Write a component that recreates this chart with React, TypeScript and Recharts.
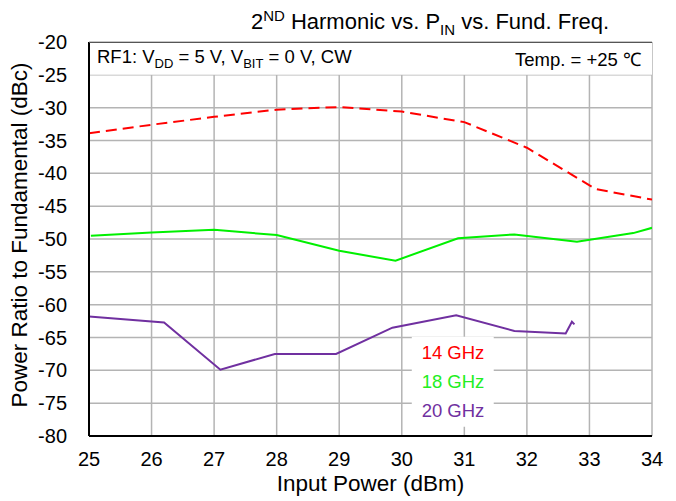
import React from "react";
import {
  LineChart,
  Line,
  XAxis,
  YAxis,
  CartesianGrid,
  ReferenceArea,
} from "recharts";

const xTicks = [25, 26, 27, 28, 29, 30, 31, 32, 33, 34];
const yTicks = [-80, -75, -70, -65, -60, -55, -50, -45, -40, -35, -30, -25, -20];

const ghz14 = [
  { x: 25, y: -33.9 },
  { x: 26, y: -32.6 },
  { x: 27, y: -31.4 },
  { x: 28, y: -30.3 },
  { x: 29, y: -29.9 },
  { x: 30, y: -30.6 },
  { x: 31, y: -32.2 },
  { x: 32, y: -36.1 },
  { x: 33.1, y: -42.4 },
  { x: 34, y: -44.0 },
];

const ghz18 = [
  { x: 25.03, y: -49.5 },
  { x: 26, y: -49.0 },
  { x: 27, y: -48.6 },
  { x: 28, y: -49.4 },
  { x: 29, y: -51.8 },
  { x: 29.9, y: -53.3 },
  { x: 30.9, y: -49.9 },
  { x: 31.8, y: -49.3 },
  { x: 32.8, y: -50.4 },
  { x: 33.7, y: -49.1 },
  { x: 34, y: -48.3 },
];

const ghz20 = [
  { x: 25, y: -61.8 },
  { x: 26.2, y: -62.7 },
  { x: 27.1, y: -69.9 },
  { x: 27.97, y: -67.5 },
  { x: 28.95, y: -67.5 },
  { x: 29.85, y: -63.5 },
  { x: 30.87, y: -61.6 },
  { x: 31.8, y: -64.0 },
  { x: 32.62, y: -64.4 },
  { x: 32.72, y: -62.6 },
  { x: 32.76, y: -63.0 },
];

const font = "'Liberation Sans', Arial, Helvetica, sans-serif";

export default function App() {
  return (
    <div style={{ position: "absolute", left: 0, top: 0, width: 676, height: 501, background: "#fff", fontFamily: font }}>
      <LineChart width={676} height={501} margin={{ top: 42, right: 24, left: 29, bottom: 35 }}>
        <CartesianGrid stroke="#b4b4b4" strokeWidth={1.5} ticks={yTicks} />
        <ReferenceArea y1={-25} y2={-20} fill="#fff" fillOpacity={1} stroke="none" ifOverflow="visible" />
        <ReferenceArea x1={30.16} x2={31.47} y1={-78.6} y2={-64.9} fill="#fff" fillOpacity={1} stroke="none" />
        <XAxis
          type="number"
          dataKey="x"
          domain={[25, 34]}
          ticks={xTicks}
          interval={0}
          allowDataOverflow
          height={30}
          tickLine={false}
          axisLine={{ stroke: "#000", strokeWidth: 2 }}
          tick={{ fill: "#000", fontSize: 20, fontFamily: font }}
          tickMargin={10}
        />
        <YAxis
          type="number"
          dataKey="y"
          domain={[-80, -20]}
          ticks={yTicks}
          interval={0}
          allowDataOverflow
          width={60}
          tickLine={false}
          axisLine={{ stroke: "#000", strokeWidth: 2 }}
          tick={{ fill: "#000", fontSize: 20, fontFamily: font }}
          tickMargin={16}
        />
        <YAxis yAxisId="r" orientation="right" width={0} tick={false} tickLine={false} axisLine={{ stroke: "#000", strokeWidth: 2 }} />
        <Line data={ghz14} dataKey="y" type="linear" stroke="#ff0000" strokeWidth={2} strokeDasharray="11 6" dot={false} isAnimationActive={false} />
        <Line data={ghz18} dataKey="y" type="linear" stroke="#00f000" strokeWidth={2} dot={false} isAnimationActive={false} />
        <Line data={ghz20} dataKey="y" type="linear" stroke="#7030a0" strokeWidth={2} dot={false} isAnimationActive={false} />
      </LineChart>

      <div style={{ position: "absolute", left: 89, top: 42, width: 563, height: 1, borderTop: "1.5px solid #555" }} />

      <div style={{ position: "absolute", left: 60, width: 740, top: 7, textAlign: "center", fontSize: 22, color: "#000" }}>
        2<sup style={{ fontSize: 15 }}>ND</sup> Harmonic vs. P<sub style={{ fontSize: 15 }}>IN</sub> vs. Fund. Freq.
      </div>

      <div style={{ position: "absolute", left: 97, top: 46, fontSize: 18.5, color: "#000" }}>
        RF1: V<sub style={{ fontSize: 13 }}>DD</sub> = 5 V, V<sub style={{ fontSize: 13 }}>BIT</sub> = 0 V, CW
      </div>
      <div style={{ position: "absolute", right: 676 - 641, top: 46, fontSize: 18.5, color: "#000" }}>
        Temp. = +25 ℃
      </div>

      <div style={{ position: "absolute", left: 412, width: 82, top: 338, textAlign: "center", fontSize: 18.5, lineHeight: "29px" }}>
        <div style={{ color: "#ff0000" }}>14 GHz</div>
        <div style={{ color: "#22ee22" }}>18 GHz</div>
        <div style={{ color: "#7030a0" }}>20 GHz</div>
      </div>

      <div style={{ position: "absolute", left: 89, width: 563, top: 471, textAlign: "center", fontSize: 22.5, color: "#000" }}>
        Input Power (dBm)
      </div>
      <div
        style={{
          position: "absolute",
          left: 20,
          top: 235,
          width: 400,
          textAlign: "center",
          fontSize: 22.5,
          color: "#000",
          transform: "translate(-50%, -50%) rotate(-90deg)",
          whiteSpace: "nowrap",
        }}
      >
        Power Ratio to Fundamental (dBc)
      </div>
    </div>
  );
}
